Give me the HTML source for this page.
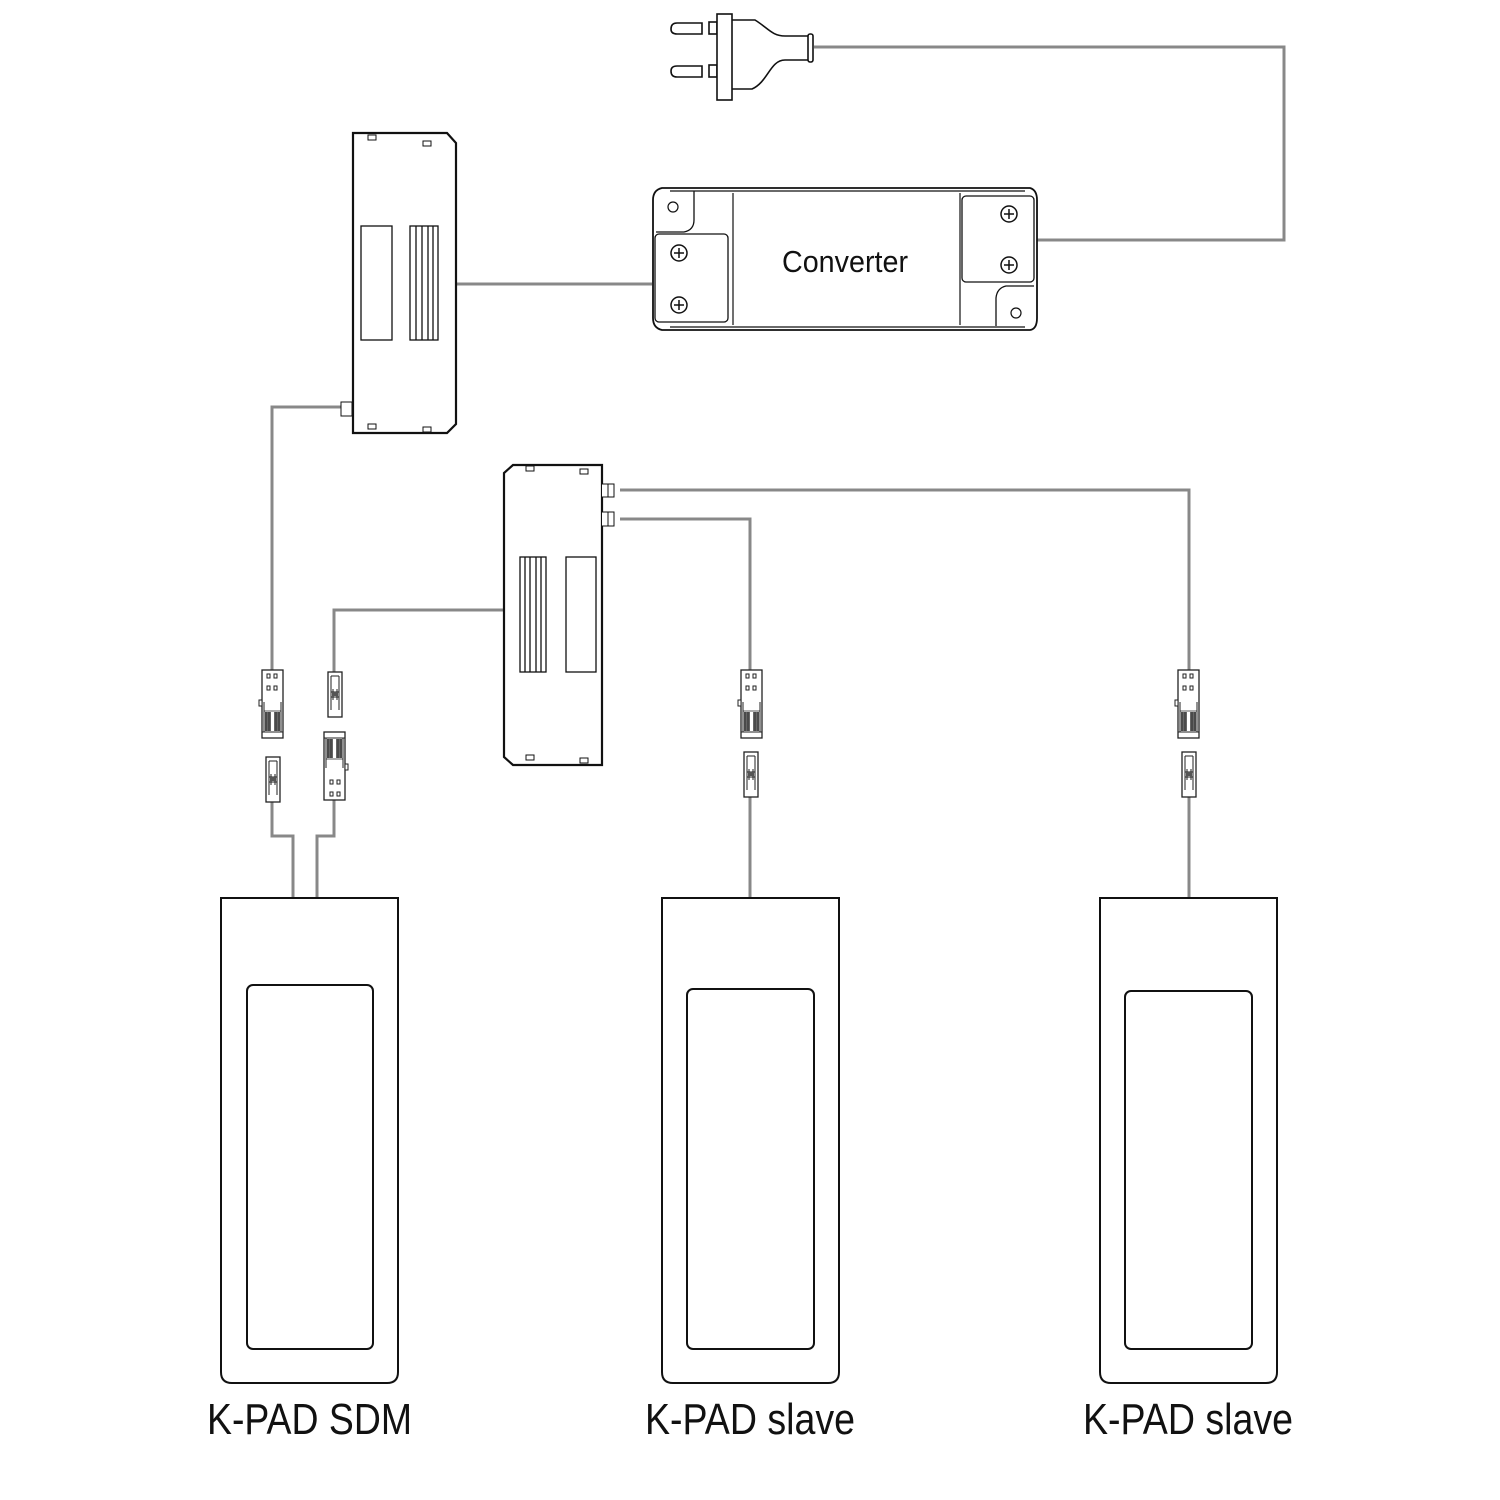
<!DOCTYPE html>
<html><head><meta charset="utf-8"><style>
html,body{margin:0;padding:0;background:#fff;}
svg{display:block;}
</style></head><body>
<svg width="1500" height="1500" viewBox="0 0 1500 1500" xmlns="http://www.w3.org/2000/svg">
<defs>
<g id="male">
  <rect x="0" y="0" width="21" height="68" fill="#fff" stroke="#222" stroke-width="1.3"/>
  <rect x="5" y="4" width="3" height="4" fill="none" stroke="#222" stroke-width="1"/>
  <rect x="12" y="4" width="3" height="4" fill="none" stroke="#222" stroke-width="1"/>
  <rect x="5" y="16" width="3" height="4" fill="none" stroke="#222" stroke-width="1"/>
  <rect x="12" y="16" width="3" height="4" fill="none" stroke="#222" stroke-width="1"/>
  <rect x="-3" y="30" width="3" height="6" fill="#fff" stroke="#222" stroke-width="1"/>
  <path d="M2 62 V32 M19 62 V32" stroke="#222" stroke-width="1"/>
  <rect x="3" y="42" width="6" height="19" fill="#666"/>
  <rect x="12" y="42" width="6" height="19" fill="#666"/>
  <path d="M2 41 H19 M4 42 V61 M7 42 V61 M14 42 V61 M17 42 V61" stroke="#222" stroke-width="0.8"/>
  <path d="M0 62 H21" stroke="#222" stroke-width="1"/>
</g>
<g id="female">
  <rect x="0" y="0" width="14" height="45" fill="#fff" stroke="#222" stroke-width="1.3"/>
  <path d="M3 4 V38 M11 4 V38 M3 4 H11 M3 20 H11 M3 25 H11 M5 17 V28 M9 17 V28" stroke="#222" stroke-width="1" fill="none"/>
  <rect x="4" y="20" width="6" height="4" fill="#555"/>
</g>
</defs>

<g fill="none" stroke="#888" stroke-width="3">
  <path d="M814 47 H1284 V240 H1037"/>
  <path d="M456 284 H652"/>
  <path d="M341 407 H272 V670"/>
  <path d="M503 610 H334 V672"/>
  <path d="M620 490 H1189 V670"/>
  <path d="M620 519 H750 V670"/>
  <path d="M272 800 V836 H293 V898"/>
  <path d="M334 800 V836 H317 V898"/>
  <path d="M750 797 V898"/>
  <path d="M1189 797 V898"/>
</g>

<!-- plug -->
<g stroke="#111" stroke-width="1.6" fill="#fff">
  <path d="M702 23 H677 Q671 23 671 29 Q671 34 677 34 H702 Z"/>
  <path d="M702 66 H677 Q671 66 671 71 Q671 77 677 77 H702 Z"/>
  <rect x="709" y="22" width="8" height="12"/>
  <rect x="709" y="65" width="8" height="12"/>
  <path d="M732 20 L755 20 C768 28 772 36 785 36 L809 36 L809 60 L785 60 C770 60 768 82 752 89 L732 89"/>
  <rect x="717" y="14" width="15" height="86"/>
  <rect x="808" y="34" width="5" height="28" rx="2"/>
</g>

<!-- module 1 -->
<g stroke="#111" fill="#fff">
  <path d="M353 133 H447 L456 143 V424 L447 433 H353 Z" stroke-width="2.2"/>
  <rect x="368" y="135" width="8" height="5" stroke-width="1"/>
  <rect x="423" y="141" width="8" height="5" stroke-width="1"/>
  <rect x="368" y="424" width="8" height="5" stroke-width="1"/>
  <rect x="423" y="427" width="8" height="5" stroke-width="1"/>
  <rect x="341" y="402" width="11" height="14" stroke-width="1"/>
  <rect x="361" y="226" width="31" height="114" stroke-width="1.3"/>
  <rect x="410" y="226" width="28" height="114" stroke-width="1.3"/>
  <path d="M416 226 V340 M422 226 V340 M428 226 V340 M433 226 V340" stroke-width="1.3"/>
</g>

<!-- converter -->
<g stroke="#111" fill="#fff" stroke-width="1.8">
  <path d="M662 188 H1030 Q1037 190 1037 200 V318 Q1037 329 1030 330 H662 Q653 328 653 318 V200 Q653 190 662 188 Z"/>
  <path d="M733 193 V325 M960 193 V325" stroke-width="1.2"/>
  <path d="M670 191 H1025 M670 327 H1025" stroke-width="1.2"/>
  <path d="M694 191 V220 Q694 230 684 232 H656" stroke-width="1.3"/>
  <rect x="655" y="234" width="73" height="88" rx="4" stroke-width="1.3"/>
  <rect x="962" y="196" width="72" height="86" rx="4" stroke-width="1.3"/>
  <path d="M1034 286 H1006 Q997 288 996 298 V326" stroke-width="1.3"/>
  <circle cx="673" cy="207" r="5" stroke-width="1.2"/>
  <circle cx="1016" cy="313" r="5" stroke-width="1.2"/>
  <g stroke-width="1.5">
    <circle cx="679" cy="253" r="8"/><path d="M674 253 H684 M679 248 V258"/>
    <circle cx="679" cy="305" r="8"/><path d="M674 305 H684 M679 300 V310"/>
    <circle cx="1009" cy="214" r="8"/><path d="M1004 214 H1014 M1009 209 V219"/>
    <circle cx="1009" cy="265" r="8"/><path d="M1004 265 H1014 M1009 260 V270"/>
  </g>
</g>
<text x="845" y="272" font-family="Liberation Sans, sans-serif" font-size="31" text-anchor="middle" textLength="126" lengthAdjust="spacingAndGlyphs" fill="#111">Converter</text>

<!-- module 2 -->
<g stroke="#111" fill="#fff">
  <path d="M513 465 H602 V765 H513 L504 757 V473 Z" stroke-width="2.2"/>
  <rect x="526" y="466" width="8" height="5" stroke-width="1"/>
  <rect x="580" y="469" width="8" height="5" stroke-width="1"/>
  <rect x="526" y="755" width="8" height="5" stroke-width="1"/>
  <rect x="580" y="758" width="8" height="5" stroke-width="1"/>
  <path d="M602 484 H614 V497 H602 M608 484 V497" stroke-width="1"/>
  <path d="M602 512 H614 V526 H602 M608 512 V526" stroke-width="1"/>
  <rect x="520" y="557" width="26" height="115" stroke-width="1.3"/>
  <path d="M525 557 V672 M530 557 V672 M536 557 V672 M541 557 V672" stroke-width="1.3"/>
  <rect x="566" y="557" width="30" height="115" stroke-width="1.3"/>
</g>

<use href="#male" x="262" y="670"/>
<use href="#female" x="266" y="757"/>
<use href="#female" x="328" y="672"/>
<use href="#male" transform="translate(345,800) rotate(180)"/>
<use href="#male" x="741" y="670"/>
<use href="#female" x="744" y="752"/>
<use href="#male" x="1178" y="670"/>
<use href="#female" x="1182" y="752"/>

<g stroke="#111" fill="#fff">
  <path d="M221 898 H398 V1372 Q398 1383 387 1383 H232 Q221 1383 221 1372 Z" stroke-width="2"/>
  <rect x="247" y="985" width="126" height="364" rx="6" stroke-width="2"/>
  <path d="M662 898 H839 V1372 Q839 1383 828 1383 H673 Q662 1383 662 1372 Z" stroke-width="2"/>
  <rect x="687" y="989" width="127" height="360" rx="6" stroke-width="2"/>
  <path d="M1100 898 H1277 V1372 Q1277 1383 1266 1383 H1111 Q1100 1383 1100 1372 Z" stroke-width="2"/>
  <rect x="1125" y="991" width="127" height="358" rx="6" stroke-width="2"/>
</g>
<g font-family="Liberation Sans, sans-serif" font-size="44" fill="#111">
  <text x="207" y="1434" textLength="205" lengthAdjust="spacingAndGlyphs">K-PAD SDM</text>
  <text x="645" y="1434" textLength="210" lengthAdjust="spacingAndGlyphs">K-PAD slave</text>
  <text x="1083" y="1434" textLength="210" lengthAdjust="spacingAndGlyphs">K-PAD slave</text>
</g>
</svg>
</body></html>
